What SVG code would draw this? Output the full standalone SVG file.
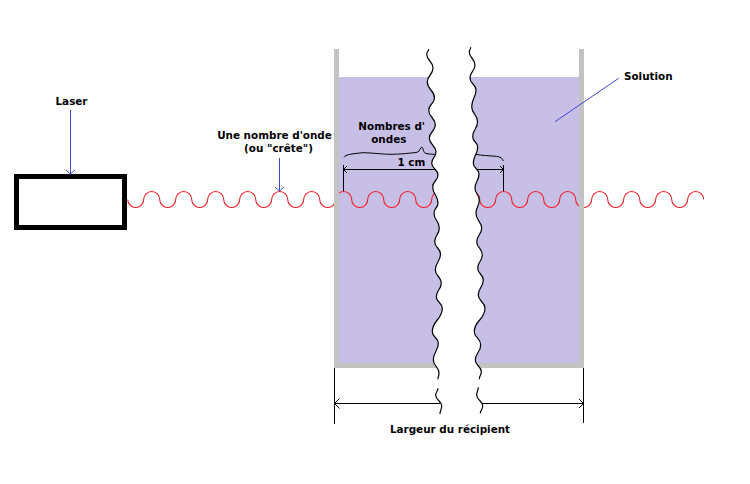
<svg xmlns="http://www.w3.org/2000/svg" width="750" height="484" viewBox="0 0 750 484">
<defs>
<path id="lf" d="M428.7 49C428.7 51.5 426.7 51.5 426.7 54C426.7 61 433 61 433 68C433 75 427.3 75 427.3 82C427.3 90 434.5 90 434.5 98C434.5 104 428.7 104 428.7 110C428.7 117.5 435.3 117.5 435.3 125C435.3 131.500 429.3 131.500 429.3 138.3C429.3 145 436 145 436 152C436 157.500 431.7 157.500 431.7 163.3C431.7 169 438 169 438 175C438 181 432.7 181 432.7 186.7C432.7 195 438 195 438 203C438 208 434 208 434 213.3C434 220.500 439.3 220.500 439.3 228C439.3 235 434.7 235 434.7 241.7C434.7 248 440.5 248 440.5 254C440.5 262 435.3 262 435.3 270C435.3 276.5 441.3 276.5 441.3 283C441.3 290 436.3 290 436.3 296.7C436.3 302.5 442.3 302.5 442.3 308.3C442.3 320 432.3 320 432.3 331.7C432.3 337.5 438.3 337.5 438.3 343.3C438.3 351.5 433.3 351.5 433.3 360C433.3 366.5 439 366.5 439 373.3C439 376 438 376 438 379.3"/>
<path id="rt" d="M470.7 47.3C470.7 49.5 469.3 49.5 469.3 52C469.3 58.5 475 58.5 475 65C475 71.5 470 71.5 470 78.3C470 84 476 84 476 90C476 98 471.7 98 471.7 106.7C471.7 114 477.5 114 477.5 122C477.5 129 472.7 129 472.7 136.7C472.7 142 477.7 142 477.7 147C477.7 155 473.3 155 473.3 163.3C473.3 168.5 479 168.5 479 174C479 181 475 181 475 188.3C475 194 479.3 194 479.3 200C479.3 206.5 476 206.5 476 213.3C476 221 481.7 221 481.7 228.3C481.7 235 476.7 235 476.7 241.7C476.7 248 482.3 248 482.3 255C482.3 261.5 477.7 261.5 477.7 268.3C477.7 274 483.3 274 483.3 280C483.3 287.5 478.3 287.5 478.3 295C478.3 301.5 485 301.5 485 308.3C485 320 474.3 320 474.3 331.7C474.3 338 480.7 338 480.7 345C480.7 352.5 475.3 352.5 475.3 360C475.3 366 481.3 366 481.3 371.7C481.3 375.5 479.3 375.5 479.3 379.3"/>
</defs>
<style>
text{font-family:"DejaVu Sans","Liberation Sans",sans-serif;font-weight:bold;font-size:10.4px;fill:#000;text-anchor:middle}
.k{fill:none;stroke:#000;stroke-width:1;shape-rendering:crispEdges}
.a{fill:none;stroke:#000;stroke-width:1}
.b{fill:none;stroke:#3f48cc;stroke-width:1}
.s{fill:none;stroke:#000;stroke-width:1.2}
</style>
<rect width="750" height="484" fill="#fff"/>
<g id="solution">
<rect x="339" y="77" width="240" height="286" fill="#c8bfe7"/>
</g>
<g id="wave">
<path fill="none" stroke="#ed1c24" stroke-width="1.1" d="M127.7 199.5a8 8 0 0 0 16 0a8 8 0 0 1 16 0a8 8 0 0 0 16 0a8 8 0 0 1 16 0a8 8 0 0 0 16 0a8 8 0 0 1 16 0a8 8 0 0 0 16 0a8 8 0 0 1 16 0a8 8 0 0 0 16 0a8 8 0 0 1 16 0a8 8 0 0 0 16 0a8 8 0 0 1 16 0a8 8 0 0 0 16 0a8 8 0 0 1 16 0a8 8 0 0 0 16 0a8 8 0 0 1 16 0a8 8 0 0 0 16 0a8 8 0 0 1 16 0a8 8 0 0 0 16 0a8 8 0 0 1 16 0a8 8 0 0 0 16 0a8 8 0 0 1 16 0a8 8 0 0 0 16 0a8 8 0 0 1 16 0a8 8 0 0 0 16 0a8 8 0 0 1 16 0a8 8 0 0 0 16 0a8 8 0 0 1 16 0a8 8 0 0 0 16 0a8 8 0 0 1 16 0a8 8 0 0 0 16 0a8 8 0 0 1 16 0a8 8 0 0 0 16 0a8 8 0 0 1 16 0a8 8 0 0 0 16 0a8 8 0 0 1 16 0"/>
</g>
<g id="container">
<path fill="#c3c3c3" d="M334 49h5v314h240V49h5v319H334z"/>
<path fill="#fff" d="M428.7 49C428.7 51.5 426.7 51.5 426.7 54C426.7 61 433 61 433 68C433 75 427.3 75 427.3 82C427.3 90 434.5 90 434.5 98C434.5 104 428.7 104 428.7 110C428.7 117.5 435.3 117.5 435.3 125C435.3 131.500 429.3 131.500 429.3 138.3C429.3 145 436 145 436 152C436 157.500 431.7 157.500 431.7 163.3C431.7 169 438 169 438 175C438 181 432.7 181 432.7 186.7C432.7 195 438 195 438 203C438 208 434 208 434 213.3C434 220.500 439.3 220.500 439.3 228C439.3 235 434.7 235 434.7 241.7C434.7 248 440.5 248 440.5 254C440.5 262 435.3 262 435.3 270C435.3 276.5 441.3 276.5 441.3 283C441.3 290 436.3 290 436.3 296.7C436.3 302.5 442.3 302.5 442.3 308.3C442.3 320 432.3 320 432.3 331.7C432.3 337.5 438.3 337.5 438.3 343.3C438.3 351.5 433.3 351.5 433.3 360C433.3 366.5 439 366.5 439 373.3L481.3 371.7C481.3 366 475.3 366 475.3 360C475.3 352.5 480.7 352.5 480.7 345C480.7 338 474.3 338 474.3 331.7C474.3 320 485 320 485 308.3C485 301.5 478.3 301.5 478.3 295C478.3 287.5 483.3 287.5 483.3 280C483.3 274 477.7 274 477.7 268.3C477.7 261.5 482.3 261.5 482.3 255C482.3 248 476.7 248 476.7 241.7C476.7 235 481.7 235 481.7 228.3C481.7 221 476 221 476 213.3C476 206.5 479.3 206.5 479.3 200C479.3 194 475 194 475 188.3C475 181 479 181 479 174C479 168.5 473.3 168.5 473.3 163.3C473.3 155 477.7 155 477.7 147C477.7 142 472.7 142 472.7 136.7C472.7 129 477.5 129 477.5 122C477.5 114 471.7 114 471.7 106.7C471.7 98 476 98 476 90C476 84 470 84 470 78.3C470 71.5 475 71.5 475 65C475 58.5 469.3 58.5 469.3 52Z"/>
<use href="#lf" class="s"/>
<use href="#rt" class="s"/>
<path class="s" d="M438 388.3C438 391.500 435.7 391.500 435.7 395C435.7 400.500 441.7 400.500 441.7 406C441.7 410 440 410 440 414"/>
<path class="s" d="M478.3 387.3C478.3 391 476.7 391 476.7 395C476.7 400.500 482.7 400.500 482.7 406C482.7 410 480.3 410 480.3 413.3"/>
</g>
<g id="laser">
<rect x="16.5" y="176.5" width="108" height="51" fill="#fff" stroke="#000" stroke-width="5"/>
<text x="71.5" y="105">Laser</text>
</g>
<g id="connectors">
<path class="b" d="M70.5 110V174M66 170l4.500 4l4.500-4"/>
<path class="b" d="M279.500 158V191M275 187l4.500 4l4.500-4"/>
<path class="b" d="M618.700 78.300L555 121.700"/>
<path class="k" d="M343.500 165V191M503.500 165V191M343.500 169.500H436M477 169.500H503.500"/>
<path class="a" d="M347 166l-3.500 3.500l3.500 3.500M500 166l3.500 3.500l-3.500 3.500"/>
<path class="a" d="M344 157.300C346 154.500 350 154 363.300 152.700C375 153 383 154.300 390 154.300C400 154.300 412 153 417 152.300C420 151.700 420 147.300 421.800 147.300C423.500 147.300 423 153 426 153.500C429 154 432 154.300 435 154.300"/>
<path class="a" d="M476 154.300C481 155.500 490 155.800 496.700 156.300C500 157 503 158.500 503.300 161"/>
<path class="k" d="M334.500 368V423.500M583.500 368V423M334.500 403.500H440M482 403.500H583.500"/>
<path class="a" d="M339.500 398.500l-5 5l5 5M579 399l4.500 4.500l-4.500 4.500"/>
</g>
<g id="labels">
<text x="274.500" y="139">Une nombre d'onde</text>
<text x="278.500" y="152">(ou "crête")</text>
<text x="391.700" y="130">Nombres d'</text>
<text x="388.800" y="143">ondes</text>
<text x="411.300" y="166">1 cm</text>
<text x="648.300" y="80">Solution</text>
<text x="450" y="433">Largeur du récipient</text>
</g>
</svg>
